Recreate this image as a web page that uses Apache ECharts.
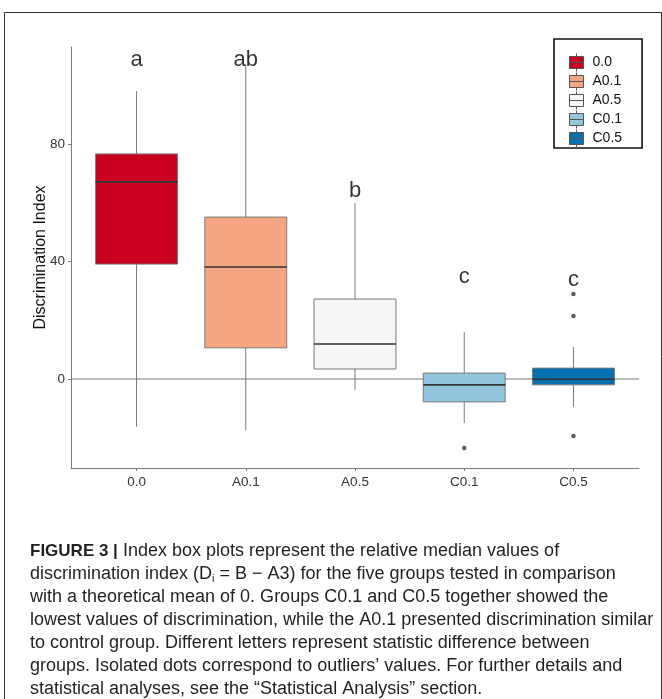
<!DOCTYPE html>
<html>
<head>
<meta charset="utf-8">
<script src="https://cdn.jsdelivr.net/npm/echarts@6/dist/echarts.min.js"></script>
<style>
html,body{margin:0;padding:0;background:#fff;}
#chart{width:662px;height:699px;}
</style>
</head>
<body>
<div id="chart"></div>
<script>
// ---- data ----
const categories   = ['0.0', 'A0.1', 'A0.5', 'C0.1', 'C0.5'];
const whiskerLow   = [-16.3, -17.4, -3.7, -15.0, -9.5];
const quartile1    = [39.1, 10.6, 3.4, -7.8, -2.0];
const medians      = [67.1, 38.1, 11.9, -2.0, -0.1];
const quartile3    = [76.6, 55.1, 27.2, 2.0, 3.7];
const whiskerHigh  = [98.0, 107.0, 59.9, 16.0, 10.9];
const boxColors    = ['#CA0020', '#F4A582', '#F7F7F7', '#92C5DE', '#0571B0'];
const outlierGroup = ['C0.1', 'C0.5', 'C0.5', 'C0.5'];
const outlierValue = [-23.5, 28.9, 21.4, -19.4];
const sigLetters   = ['a', 'ab', 'b', 'c', 'c'];
const letterY      = [105.0, 104.7, 60.4, 31.1, 30.1];
const yTicks       = [0, 40, 80];
const referenceY   = 0;
const xMin = -0.6, xMax = 4.6, yMin = -30.3, yMax = 113;

const chart = echarts.init(document.getElementById('chart'), null, {renderer: 'canvas'});

const boxSeries = categories.map((c, i) => ({
  name: c,
  type: 'custom',
  z: 3,
  itemStyle: {color: boxColors[i], borderColor: '#6e6e6e', borderWidth: 1},
  encode: {x: 0, y: [1, 2, 3, 4, 5]},
  data: [[i, whiskerLow[i], quartile1[i], medians[i], quartile3[i], whiskerHigh[i]]],
  renderItem: function (params, api) {
    const x = api.value(0);
    const pLo = api.coord([x, api.value(1)]);
    const pQ1 = api.coord([x, api.value(2)]);
    const pMed = api.coord([x, api.value(3)]);
    const pQ3 = api.coord([x, api.value(4)]);
    const pHi = api.coord([x, api.value(5)]);
    const half = api.size([0.75, 0])[0] / 2;
    const cx = pMed[0];
    const grey = '#7a7a7a';
    return {
      type: 'group',
      children: [
        {type: 'line', shape: {x1: cx, y1: pHi[1], x2: cx, y2: pQ3[1]}, style: {stroke: grey, lineWidth: 1}},
        {type: 'line', shape: {x1: cx, y1: pQ1[1], x2: cx, y2: pLo[1]}, style: {stroke: grey, lineWidth: 1}},
        {type: 'rect', shape: {x: cx - half, y: pQ3[1], width: half * 2, height: pQ1[1] - pQ3[1]},
         style: {fill: boxColors[params.seriesIndex - 1], stroke: grey, lineWidth: 1}},
        {type: 'line', shape: {x1: cx - half, y1: pMed[1], x2: cx + half, y2: pMed[1]}, style: {stroke: '#333', lineWidth: 1.6}}
      ]
    };
  }
}));

const capFont = '"Liberation Sans", Arial, sans-serif';

const option = {
  animation: false,
  backgroundColor: '#fff',
  title: {
    left: 30,
    top: 540,
    padding: 0,
    text: '{b|FIGURE 3 |} Index box plots represent the relative median values of\n' +
          'discrimination index (D{s|i} = B \u2212 A3) for the five groups tested in comparison\n' +
          'with a theoretical mean of 0. Groups C0.1 and C0.5 together showed the\n' +
          'lowest values of discrimination, while the A0.1 presented discrimination similar\n' +
          'to control group. Different letters represent statistic difference between\n' +
          'groups. Isolated dots correspond to outliers\u2019 values. For further details and\n' +
          'statistical analyses, see the \u201cStatistical Analysis\u201d section.',
    textStyle: {
      fontFamily: capFont,
      fontSize: 18, fontWeight: 'normal', color: '#231f20', lineHeight: 23,
      rich: {
        b: {fontFamily: capFont, fontSize: 17, fontWeight: 'bold', color: '#231f20', lineHeight: 23},
        s: {fontFamily: capFont, fontSize: 11, color: '#231f20', lineHeight: 23, padding: [8, 0, 0, 0]}
      }
    }
  },
  legend: {
    orient: 'vertical',
    left: 554, top: 39,
    padding: [14, 20, 0, 15],
    borderColor: '#111', borderWidth: 1.6,
    itemWidth: 14, itemHeight: 18, itemGap: 0,
    icon: 'path://M7,0L7,3M0,3L14,3L14,15L0,15ZM0,9L14,9M7,15L7,18',
    textStyle: {fontFamily: capFont, fontSize: 14, color: '#111', padding: [0, 0, 0, 4]},
    data: categories.map((c, i) => ({name: c, itemStyle: {color: boxColors[i], borderColor: '#555', borderWidth: 1}}))
  },
  grid: {left: 71, right: 23, top: 47, bottom: 231, containLabel: false},
  xAxis: {
    type: 'value', min: xMin, max: xMax,
    axisLine: {show: true, onZero: false, lineStyle: {color: '#7a7a7a', width: 1}},
    axisTick: {show: true, customValues: categories.map((c, i) => i), length: 3, lineStyle: {color: '#7a7a7a'}},
    axisLabel: {show: true, customValues: categories.map((c, i) => i), formatter: v => categories[Math.round(v)],
      margin: 7, fontFamily: capFont, fontSize: 13.5, color: '#333'},
    splitLine: {show: false}
  },
  yAxis: {
    type: 'value', min: yMin, max: yMax,
    name: 'Discrimination Index', nameLocation: 'middle', nameGap: 22, nameMoveOverlap: false,
    nameTextStyle: {fontFamily: capFont, fontSize: 16, color: '#111'},
    axisLine: {show: true, onZero: false, lineStyle: {color: '#7a7a7a', width: 1}},
    axisTick: {show: true, customValues: yTicks, length: 3, lineStyle: {color: '#7a7a7a'}},
    axisLabel: {show: true, customValues: yTicks, margin: 6,
      fontFamily: capFont, fontSize: 13.5, color: '#333'},
    splitLine: {show: false}
  },
  graphic: [
    {type: 'rect', left: 2, top: 10, shape: {width: 657, height: 700}, style: {fill: null, stroke: '#333', lineWidth: 1}, silent: true, z: -1}
  ],
  series: [
    {
      name: 'reference', type: 'line', z: 1, symbol: 'none', silent: true,
      lineStyle: {color: '#7a7a7a', width: 1},
      data: [[xMin, referenceY], [xMax, referenceY]]
    },
    ...boxSeries,
    {
      name: 'outliers', type: 'scatter', z: 4, symbolSize: 4.5,
      itemStyle: {color: '#333'},
      data: outlierGroup.map((g, i) => [categories.indexOf(g), outlierValue[i]])
    },
    {
      name: 'letters', type: 'scatter', z: 5, symbolSize: 0, silent: true,
      label: {show: true, position: 'top', distance: 0, formatter: p => p.data.name,
        fontFamily: capFont, fontSize: 22, color: '#000'},
      data: sigLetters.map((l, i) => ({name: l, value: [i, letterY[i]]}))
    }
  ]
};
chart.setOption(option);
</script>
</body>
</html>
